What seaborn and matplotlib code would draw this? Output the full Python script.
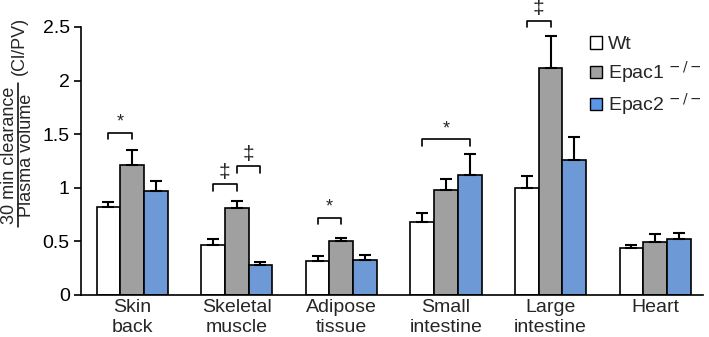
import numpy as np
import pandas as pd
import matplotlib
matplotlib.use('Agg')
import matplotlib.pyplot as plt
import seaborn as sns
from matplotlib.patches import Patch
from matplotlib.lines import Line2D

# data
tissues = ['Skin\nback', 'Skeletal\nmuscle', 'Adipose\ntissue', 'Small\nintestine', 'Large\nintestine', 'Heart']
groups = ['Wt', 'Epac1', 'Epac2']
wt_mean = [0.82, 0.47, 0.32, 0.68, 1.00, 0.44]
wt_err = [0.05, 0.05, 0.04, 0.08, 0.11, 0.03]
epac1_mean = [1.21, 0.81, 0.50, 0.98, 2.12, 0.49]
epac1_err = [0.14, 0.07, 0.03, 0.10, 0.30, 0.08]
epac2_mean = [0.97, 0.28, 0.33, 1.12, 1.26, 0.52]
epac2_err = [0.09, 0.03, 0.04, 0.19, 0.21, 0.06]

# significance: (tissue index, group a, group b, bracket height, symbol)
sig_tissue = [0, 1, 1, 2, 3, 4]
sig_a = [0, 0, 1, 0, 0, 0]
sig_b = [1, 1, 2, 1, 2, 1]
sig_y = [1.51, 1.03, 1.20, 0.72, 1.45, 2.56]
sig_sym = ['*', '\u2021', '\u2021', '*', '*', '\u2021']

colors = ['white', '#a0a0a0', '#5b96e8']

df = pd.DataFrame({
    'tissue': tissues * 3,
    'group': [g for g in groups for _ in tissues],
    'value': wt_mean + epac1_mean + epac2_mean,
})
errs = [wt_err, epac1_err, epac2_err]
means = [wt_mean, epac1_mean, epac2_mean]

sns.set_style('ticks')
plt.rcParams['font.family'] = ['Liberation Sans', 'DejaVu Sans']

fig = plt.figure(figsize=(7.09, 3.37), dpi=100)
ax = fig.add_axes([0.114, 0.125, 0.878, 0.795])

sns.barplot(data=df, x='tissue', y='value', hue='group', palette=colors,
            width=0.68, edgecolor='black', linewidth=1.2, ax=ax, legend=False,
            errorbar=None)

# upper error bars and bar centres
bar_conts = list(ax.containers)
centres = []
for k, cont in enumerate(bar_conts):
    xs = [b.get_x() + b.get_width() / 2 for b in cont.patches]
    centres.append(xs)
    ax.errorbar(xs, means[k], yerr=[np.zeros(len(xs)), errs[k]], fmt='none',
                ecolor='black', elinewidth=1.5, capsize=4, capthick=1.5, zorder=1)

# brackets
for t, a, b, y, s in zip(sig_tissue, sig_a, sig_b, sig_y, sig_sym):
    x1, x2 = centres[a][t], centres[b][t]
    ax.add_line(Line2D([x1, x1, x2, x2], [y - 0.06, y, y, y - 0.06], color='black',
                       lw=1.2, clip_on=False))
    ax.text((x1 + x2) / 2, y + 0.02, s, ha='center', va='bottom',
            fontsize=13 if s == '*' else 15, clip_on=False)

ax.set_xlim(-0.49, 5.46)
ax.set_ylim(0, 2.5)
ax.set_yticks([0, 0.5, 1, 1.5, 2, 2.5])
ax.set_yticklabels(['0', '0.5', '1', '1.5', '2', '2.5'])
ax.tick_params(axis='y', labelsize=14, length=5, width=1.2, colors='black', pad=3)
ax.tick_params(axis='x', labelsize=14, length=0, pad=3)
ax.set_xlabel('')
ax.set_ylabel('')
for sp in ['left', 'bottom']:
    ax.spines[sp].set_linewidth(1.2)
    ax.spines[sp].set_color('black')
sns.despine(ax=ax)

# y label as fraction
fig.text(0.002, 0.54, '30 min clearance', rotation=90, ha='left', va='center', fontsize=13)
fig.text(0.026, 0.54, 'Plasma volume', rotation=90, ha='left', va='center', fontsize=13)
fig.add_artist(Line2D([0.025, 0.025], [0.326, 0.754], color='black', lw=1.1))
fig.text(0.016, 0.865, '(Cl/PV)', rotation=90, ha='left', va='center', fontsize=13)

handles = [Patch(facecolor=c, edgecolor='black', linewidth=1) for c in colors]
labels = ['Wt', 'Epac1$^{\\,-/-}$', 'Epac2$^{\\,-/-}$']
ax.legend(handles, labels, loc='upper right', bbox_to_anchor=(1.025, 1.03), frameon=False,
          fontsize=14, handlelength=0.6, handleheight=0.6, handletextpad=0.3,
          labelspacing=0.3)

fig.savefig('out.png', dpi=100)
